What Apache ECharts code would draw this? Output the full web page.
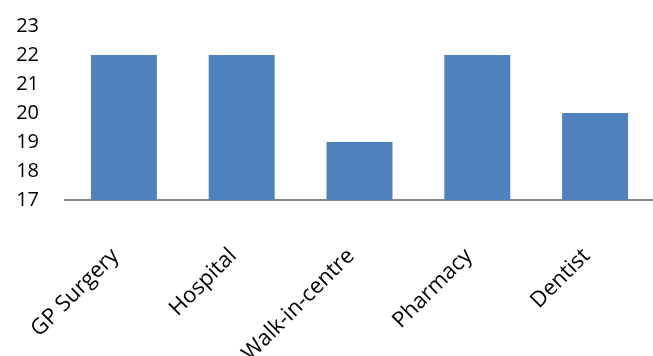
<!DOCTYPE html>
<html>
<head>
<meta charset="utf-8">
<script src="https://cdn.jsdelivr.net/npm/echarts@6/dist/echarts.min.js"></script>
<style>
  html, body { margin: 0; padding: 0; background: #ffffff; }
  #chart { width: 653px; height: 356px; }
</style>
</head>
<body>
<div id="chart"></div>
<script>
// Places where people sought help
const categories = ['GP Surgery', 'Hospital', 'Walk-in-centre', 'Pharmacy', 'Dentist'];
const counts = [22, 22, 19, 22, 20];

// Value axis range
const yMin = 17;
const yMax = 23;
const yStep = 1;

const chart = echarts.init(document.getElementById('chart'));
chart.setOption({
  animation: false,
  backgroundColor: '#ffffff',
  textStyle: { fontFamily: 'Open Sans, Liberation Sans, sans-serif' },
  grid: {
    left: 65, right: -1, top: 26, bottom: 156,
    containLabel: false,
    outerBoundsMode: 'none'
  },
  xAxis: {
    type: 'category',
    data: categories,
    axisLine: { lineStyle: { color: '#868686', width: 2 } },
    axisTick: { show: false },
    axisLabel: {
      rotate: 45,
      interval: 0,
      margin: 44,
      padding: [0, 12, 0, 0],
      fontSize: 22,
      color: '#000000'
    }
  },
  yAxis: {
    type: 'value',
    min: yMin,
    max: yMax,
    interval: yStep,
    axisLine: { show: false },
    axisTick: { show: false },
    splitLine: { show: false },
    axisLabel: { fontSize: 20, color: '#000000', margin: 26 }
  },
  series: [{
    type: 'bar',
    data: counts,
    barCategoryGap: '44%',
    itemStyle: { color: '#4F81BD' }
  }]
});
</script>
</body>
</html>
